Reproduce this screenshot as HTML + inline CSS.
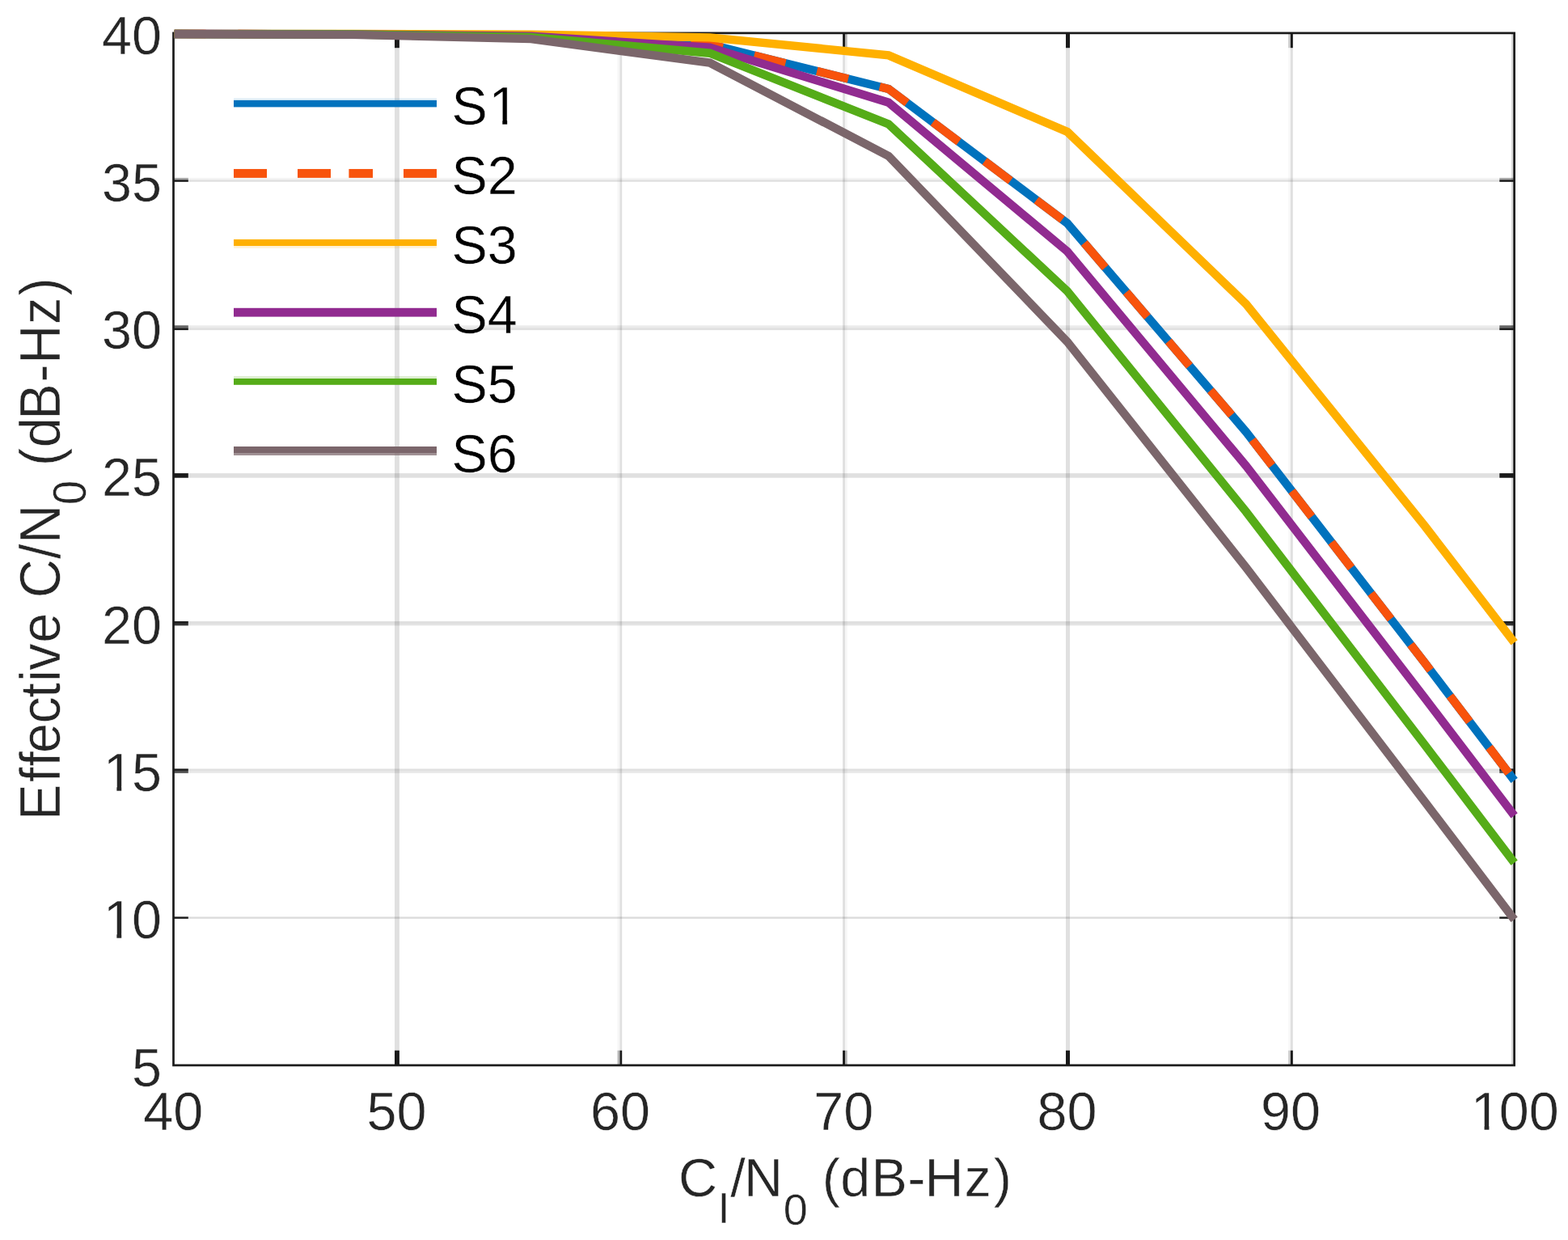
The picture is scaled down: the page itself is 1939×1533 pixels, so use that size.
<!DOCTYPE html>
<html lang="en"><head><meta charset="utf-8"><title>Effective C/N0 versus CI/N0</title>
<style>html,body{margin:0;padding:0;background:#fff;}body{width:1939px;height:1533px;overflow:hidden;}svg{display:block;}text{font-family:"Liberation Sans", sans-serif;stroke:#ffffff;stroke-width:0.45px;stroke-linejoin:round;}</style></head><body>
<svg width="1939" height="1533" viewBox="0 0 1939 1533">
<rect x="0" y="0" width="1939" height="1533" fill="#ffffff"/>
<g fill="#262626" stroke="none">
<rect x="488.00" y="40.90" width="5.90" height="1276.10" fill-opacity="0.143"/>
<rect x="763.60" y="40.90" width="2.90" height="1276.10" fill-opacity="0.041"/>
<rect x="766.50" y="40.90" width="2.70" height="1276.10" fill-opacity="0.147"/>
<rect x="1042.10" y="40.90" width="2.90" height="1276.10" fill-opacity="0.147"/>
<rect x="1045.00" y="40.90" width="2.70" height="1276.10" fill-opacity="0.045"/>
<rect x="1318.00" y="40.90" width="5.00" height="1276.10" fill-opacity="0.143"/>
<rect x="1593.20" y="40.90" width="2.70" height="1276.10" fill-opacity="0.030"/>
<rect x="1595.90" y="40.90" width="2.90" height="1276.10" fill-opacity="0.147"/>
<rect x="1868.90" y="40.90" width="2.70" height="1276.10" fill-opacity="0.170"/>
<rect x="214.50" y="219.90" width="1658.10" height="2.40" fill-opacity="0.050"/>
<rect x="214.50" y="222.30" width="1658.10" height="2.50" fill-opacity="0.147"/>
<rect x="214.50" y="402.30" width="1658.10" height="3.10" fill-opacity="0.092"/>
<rect x="214.50" y="405.40" width="1658.10" height="2.70" fill-opacity="0.147"/>
<rect x="214.50" y="585.10" width="1658.10" height="5.60" fill-opacity="0.143"/>
<rect x="214.50" y="768.10" width="1658.10" height="2.80" fill-opacity="0.150"/>
<rect x="214.50" y="770.90" width="1658.10" height="2.50" fill-opacity="0.124"/>
<rect x="214.50" y="950.40" width="1658.10" height="2.50" fill-opacity="0.143"/>
<rect x="214.50" y="952.90" width="1658.10" height="2.90" fill-opacity="0.106"/>
<rect x="214.50" y="1133.40" width="1658.10" height="2.40" fill-opacity="0.160"/>
</g>
<rect x="214.50" y="40.90" width="1658.10" height="1276.10" fill="none" stroke="#1a1a1a" stroke-width="2.7"/>
<g fill="#1a1a1a" stroke="none">
<rect x="488.00" y="1298.70" width="5.90" height="18.30" fill-opacity="1.00"/>
<rect x="488.00" y="40.90" width="5.90" height="18.30" fill-opacity="1.00"/>
<rect x="763.60" y="1298.70" width="2.90" height="18.30" fill-opacity="0.29"/>
<rect x="763.60" y="40.90" width="2.90" height="18.30" fill-opacity="0.29"/>
<rect x="766.50" y="1298.70" width="2.70" height="18.30" fill-opacity="1.00"/>
<rect x="766.50" y="40.90" width="2.70" height="18.30" fill-opacity="1.00"/>
<rect x="1042.10" y="1298.70" width="2.90" height="18.30" fill-opacity="1.00"/>
<rect x="1042.10" y="40.90" width="2.90" height="18.30" fill-opacity="1.00"/>
<rect x="1045.00" y="1298.70" width="2.70" height="18.30" fill-opacity="0.31"/>
<rect x="1045.00" y="40.90" width="2.70" height="18.30" fill-opacity="0.31"/>
<rect x="1318.00" y="1298.70" width="5.00" height="18.30" fill-opacity="1.00"/>
<rect x="1318.00" y="40.90" width="5.00" height="18.30" fill-opacity="1.00"/>
<rect x="1593.20" y="1298.70" width="2.70" height="18.30" fill-opacity="0.21"/>
<rect x="1593.20" y="40.90" width="2.70" height="18.30" fill-opacity="0.21"/>
<rect x="1595.90" y="1298.70" width="2.90" height="18.30" fill-opacity="1.00"/>
<rect x="1595.90" y="40.90" width="2.90" height="18.30" fill-opacity="1.00"/>
<rect x="214.50" y="219.90" width="18.30" height="2.40" fill-opacity="0.35"/>
<rect x="1854.30" y="219.90" width="18.30" height="2.40" fill-opacity="0.35"/>
<rect x="214.50" y="222.30" width="18.30" height="2.50" fill-opacity="1.00"/>
<rect x="1854.30" y="222.30" width="18.30" height="2.50" fill-opacity="1.00"/>
<rect x="214.50" y="402.30" width="18.30" height="3.10" fill-opacity="0.64"/>
<rect x="1854.30" y="402.30" width="18.30" height="3.10" fill-opacity="0.64"/>
<rect x="214.50" y="405.40" width="18.30" height="2.70" fill-opacity="1.00"/>
<rect x="1854.30" y="405.40" width="18.30" height="2.70" fill-opacity="1.00"/>
<rect x="214.50" y="585.10" width="18.30" height="5.60" fill-opacity="1.00"/>
<rect x="1854.30" y="585.10" width="18.30" height="5.60" fill-opacity="1.00"/>
<rect x="214.50" y="768.10" width="18.30" height="2.80" fill-opacity="1.00"/>
<rect x="1854.30" y="768.10" width="18.30" height="2.80" fill-opacity="1.00"/>
<rect x="214.50" y="770.90" width="18.30" height="2.50" fill-opacity="0.87"/>
<rect x="1854.30" y="770.90" width="18.30" height="2.50" fill-opacity="0.87"/>
<rect x="214.50" y="950.40" width="18.30" height="2.50" fill-opacity="1.00"/>
<rect x="1854.30" y="950.40" width="18.30" height="2.50" fill-opacity="1.00"/>
<rect x="214.50" y="952.90" width="18.30" height="2.90" fill-opacity="0.74"/>
<rect x="1854.30" y="952.90" width="18.30" height="2.90" fill-opacity="0.74"/>
<rect x="214.50" y="1133.40" width="18.30" height="2.40" fill-opacity="1.00"/>
<rect x="1854.30" y="1133.40" width="18.30" height="2.40" fill-opacity="1.00"/>
</g>
<g fill="none" stroke-width="10.4" stroke-linejoin="miter" stroke-linecap="butt">
<polyline points="215.70,41.95 435.58,42.24 656.66,44.02 877.74,54.83 1098.82,109.96 1319.90,276.09 1540.98,534.06 1762.06,819.67 1872.60,964.80" stroke="#0072bd"/>
<polyline points="215.70,41.95 435.58,42.24 656.66,44.02 877.74,54.83 1098.82,109.96 1319.90,276.09 1540.98,534.06 1762.06,819.67 1872.60,964.80" stroke="#f8530c" stroke-dasharray="40.0 40.0" stroke-dashoffset="1.2"/>
<polyline points="215.70,41.92 435.58,42.01 656.66,42.62 877.74,46.40 1098.82,68.37 1319.90,162.97 1540.98,375.93 1762.06,650.56 1872.60,794.35" stroke="#ffb000"/>
<polyline points="215.70,41.97 435.58,42.35 656.66,44.69 877.74,58.74 1098.82,126.66 1319.90,310.88 1540.98,576.09 1762.06,863.14 1872.60,1008.44" stroke="#912b90"/>
<polyline points="215.70,42.00 435.58,42.54 656.66,45.92 877.74,65.70 1098.82,153.49 1319.90,360.03 1540.98,632.75 1762.06,921.20 1872.60,1066.67" stroke="#55ac18"/>
<polyline points="215.70,42.06 435.58,42.90 656.66,48.12 877.74,77.60 1098.82,192.95 1319.90,422.59 1540.98,701.75 1762.06,991.35 1872.60,1136.95" stroke="#7b666b"/>
</g>
<g fill="#262626" font-size="66.5px">
<text x="125.93 162.92" y="66.50">40</text>
<text x="125.93 162.92" y="248.80">35</text>
<text x="125.93 162.92" y="431.10">30</text>
<text x="125.93 162.92" y="613.40">25</text>
<text x="125.93 162.92" y="795.70">20</text>
<text x="127.63 162.92" y="978.00">15</text>
<text x="127.63 162.92" y="1160.30">10</text>
<text x="162.92" y="1342.60">5</text>
<text x="177.22 214.20" y="1397.30">40</text>
<text x="453.57 490.55" y="1397.30">50</text>
<text x="729.92 766.90" y="1397.30">60</text>
<text x="1006.27 1043.25" y="1397.30">70</text>
<text x="1282.62 1319.60" y="1397.30">80</text>
<text x="1558.97 1595.95" y="1397.30">90</text>
<text x="1818.82 1853.81 1890.79" y="1397.30">100</text>
</g>
<g fill="#262626" font-size="66.5px">
<text y="1479.0"><tspan x="839.0">C</tspan><tspan x="887.4" dy="33.0" font-size="54.0px">I</tspan><tspan x="903.2 920.0" dy="-33.0">/N</tspan><tspan x="968.7" dy="34.6" font-size="54.0px">0</tspan><tspan x="1001.0 1016.8 1039.3 1077.5 1122.3 1143.6 1192.4 1228.8" dy="-34.6"> (dB-Hz)</tspan></text>
<g transform="translate(73.8 1008.2) rotate(-90) scale(1 1.07)"><text y="0"><tspan x="-5.9 41.1 60.8 77.3 113.7 145.5 165.3 179.5 213.5 251.2 269.0 317.2 336.2">Effective C/N</tspan><tspan x="384.3" dy="30.2" font-size="54.0px">0</tspan><tspan x="416.2 432.3 455.0 489.5 535.6 558.5 607.3 642.6" dy="-30.2"> (dB-Hz)</tspan></text></g>
</g>
<g stroke="none">
<rect x="289.0" y="121.40" width="251.0" height="2.50" fill="#0072bd" fill-opacity="0.12"/>
<rect x="289.0" y="123.90" width="251.0" height="8.50" fill="#0072bd"/>
<rect x="289.0" y="208.95" width="41.0" height="10.90" fill="#f8530c"/>
<rect x="368.0" y="208.95" width="41.0" height="10.90" fill="#f8530c"/>
<rect x="431.4" y="208.95" width="29.6" height="10.90" fill="#f8530c"/>
<rect x="499.0" y="208.95" width="41.0" height="10.90" fill="#f8530c"/>
<rect x="289.0" y="295.90" width="251.0" height="8.15" fill="#ffb000"/>
<rect x="289.0" y="304.05" width="251.0" height="2.95" fill="#ffb000" fill-opacity="0.15"/>
<rect x="289.0" y="380.80" width="251.0" height="10.80" fill="#912b90"/>
<rect x="289.0" y="465.05" width="251.0" height="2.95" fill="#55ac18" fill-opacity="0.20"/>
<rect x="289.0" y="468.00" width="251.0" height="7.80" fill="#55ac18"/>
<rect x="289.0" y="552.00" width="251.0" height="8.60" fill="#7b666b"/>
<rect x="289.0" y="560.60" width="251.0" height="2.40" fill="#7b666b" fill-opacity="0.72"/>
</g>
<g fill="#000000" font-size="66.5px">
<text x="558.40 604.60" y="153.9">S1</text>
<text x="558.40 602.75" y="240.1">S2</text>
<text x="558.40 602.75" y="326.0">S3</text>
<text x="558.40 602.75" y="412.0">S4</text>
<text x="558.40 602.75" y="497.8">S5</text>
<text x="558.40 602.75" y="583.6">S6</text>
</g>
<g fill="#ffffff" stroke="none">
<rect x="131.70" y="972.43" width="12.66" height="6.57"/>
<rect x="150.23" y="972.43" width="12.14" height="6.57"/>
<rect x="131.70" y="1154.73" width="12.66" height="6.57"/>
<rect x="150.23" y="1154.73" width="12.14" height="6.57"/>
<rect x="1822.89" y="1391.73" width="12.66" height="6.57"/>
<rect x="1841.42" y="1391.73" width="12.14" height="6.57"/>
<rect x="608.67" y="148.33" width="12.66" height="6.57"/>
<rect x="627.20" y="148.33" width="12.14" height="6.57"/>
</g>
</svg></body></html>
